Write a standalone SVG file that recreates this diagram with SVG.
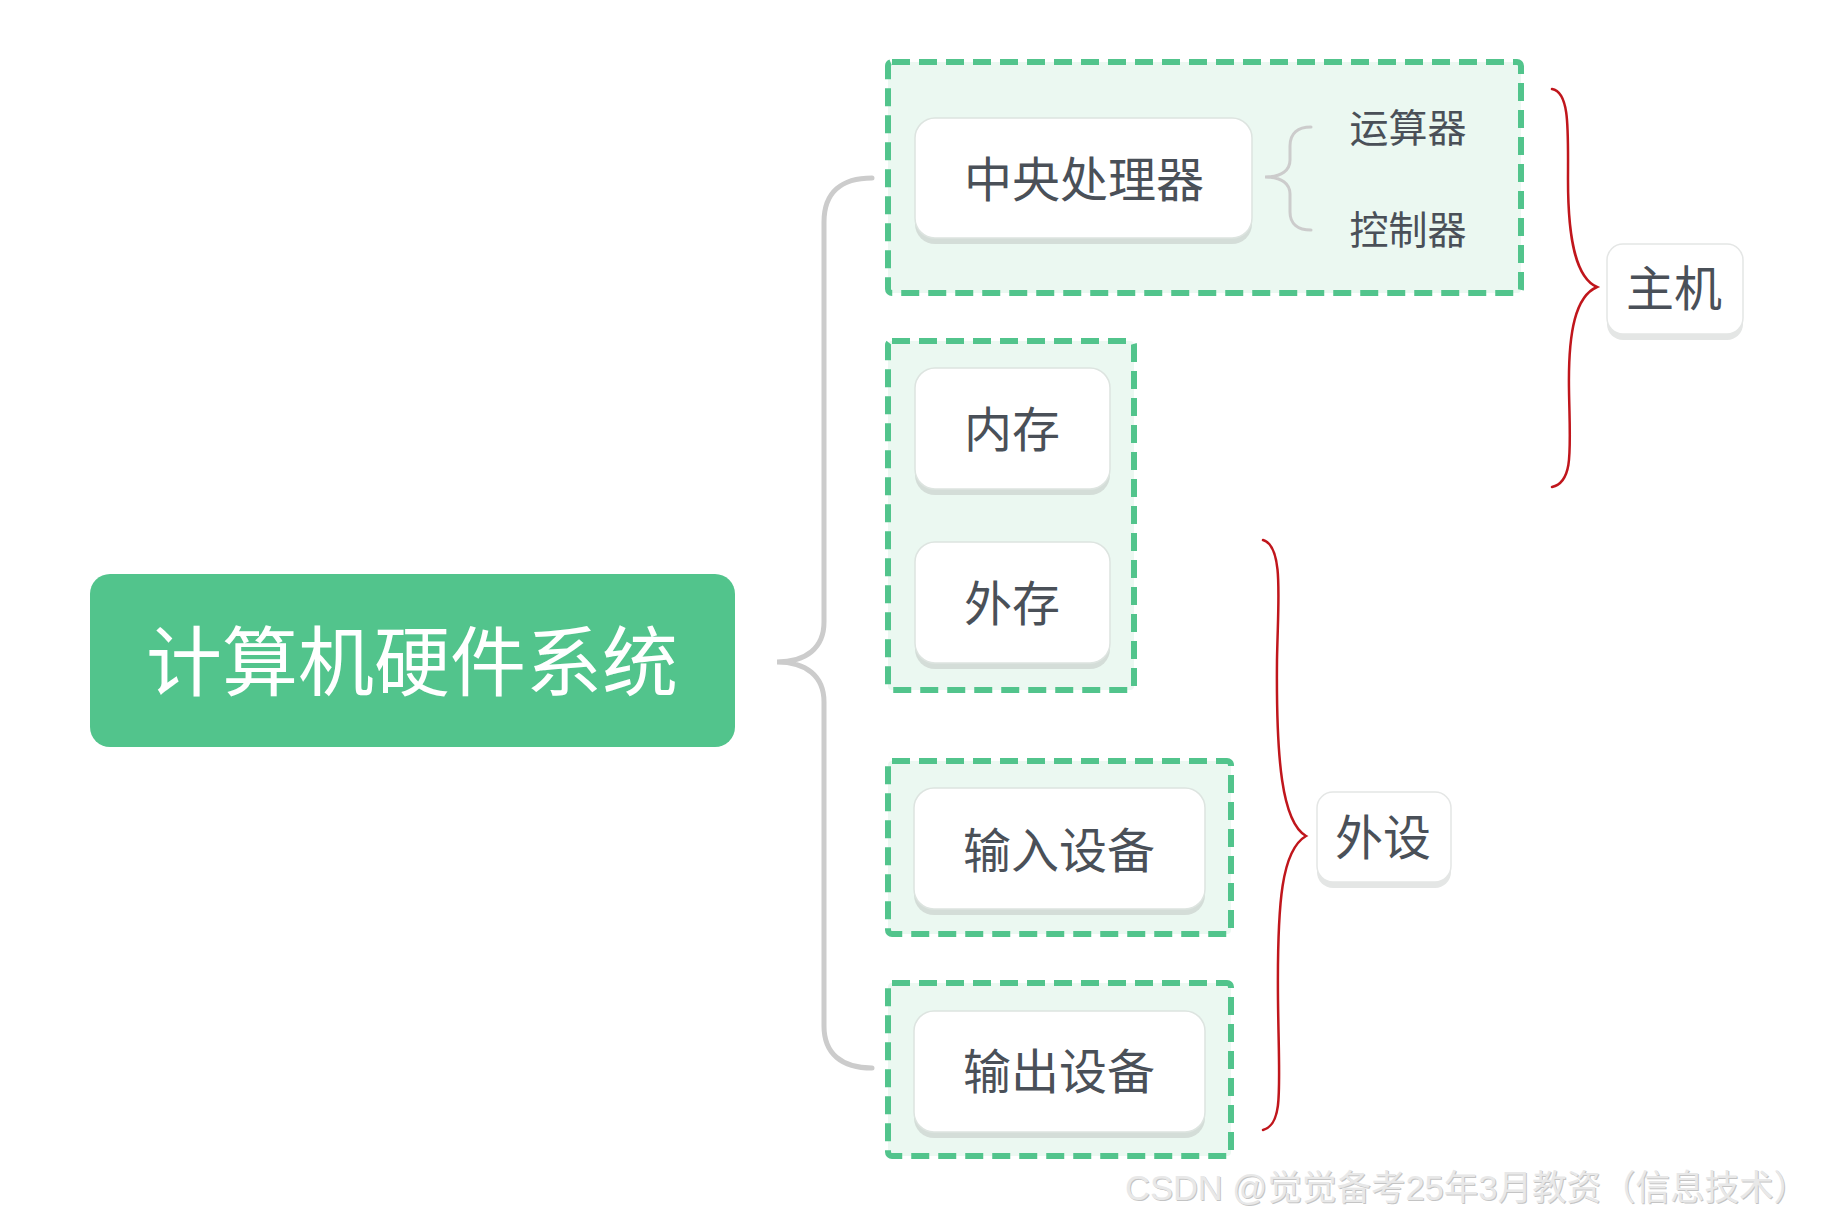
<svg xmlns="http://www.w3.org/2000/svg" width="1830" height="1221" viewBox="0 0 1830 1221">
<style>
.grp{fill:#ebf8f1;stroke:#52c48c;stroke-width:6;stroke-dasharray:18 9}
.card{fill:#ffffff;stroke:#dde4e0;stroke-width:1.5}
.shadow{fill:#d4ddd8}
.t{font-family:"Noto Sans CJK SC","Noto Sans",sans-serif;fill:#4a5058;text-anchor:middle;dominant-baseline:central}
.gray{fill:none;stroke:#cccccc;stroke-linecap:round}
.red{fill:none;stroke:#c0161c;stroke-width:2.5;stroke-linecap:round}
</style>
<rect width="1830" height="1221" fill="#ffffff"/>
<g id="group-cpu">
<rect class="grp" x="888" y="62" width="633" height="231" rx="4"/>
</g>
<g id="group-mem">
<rect class="grp" x="888" y="341" width="246" height="349" rx="4"/>
</g>
<g id="group-in">
<rect class="grp" x="888" y="761" width="343" height="173" rx="4"/>
</g>
<g id="group-out">
<rect class="grp" x="888" y="983" width="343" height="173" rx="4"/>
</g>
<g id="connectors">
<path class="gray" stroke-width="5" d="M872,178 C842,178 824,192 824,222 L824,622 C824,648 806,662 777,662 C806,662 824,676 824,702 L824,1026 C824,1054 842,1068 872,1068"/>
<path class="gray" stroke-width="3" d="M1311,127 C1298,127 1290,133 1290,146 L1290,160 C1290,170 1282,177 1265,177 C1282,177 1290,184 1290,194 L1290,212 C1290,224 1298,230 1311,230"/>
<path class="red" d="M1552,89 C1570,92 1568,130 1568,180 C1568,240 1576,278 1597,287 C1576,296 1568,330 1569,390 C1570,450 1574,482 1552,487"/>
<path class="red" d="M1263,540 C1284,546 1278,600 1277,660 C1276,760 1282,822 1306,836 C1282,850 1277,900 1278,1000 C1279,1090 1284,1124 1263,1130"/>
</g>
<g id="root">
<rect x="90" y="574" width="645" height="173" rx="20" fill="#52c48c"/>
<text class="t" x="412" y="657" font-size="76" style="fill:#ffffff">计算机硬件系统</text>
</g>
<g id="cpu">
<rect class="shadow" x="915" y="124" width="337" height="120" rx="20"/>
<rect class="card" x="915" y="118" width="337" height="120" rx="20"/>
<text class="t" x="1084" y="176" font-size="48">中央处理器</text>
</g>
<g id="alu">
<text class="t" x="1408" y="125" font-size="39">运算器</text>
</g>
<g id="cu">
<text class="t" x="1408" y="227" font-size="39">控制器</text>
</g>
<g id="ram">
<rect class="shadow" x="915" y="374" width="195" height="121" rx="20"/>
<rect class="card" x="915" y="368" width="195" height="121" rx="20"/>
<text class="t" x="1012" y="426" font-size="48">内存</text>
</g>
<g id="disk">
<rect class="shadow" x="915" y="548" width="195" height="121" rx="20"/>
<rect class="card" x="915" y="542" width="195" height="121" rx="20"/>
<text class="t" x="1012" y="600" font-size="48">外存</text>
</g>
<g id="input">
<rect class="shadow" x="914" y="794" width="291" height="121" rx="20"/>
<rect class="card" x="914" y="788" width="291" height="121" rx="20"/>
<text class="t" x="1059" y="847" font-size="48">输入设备</text>
</g>
<g id="output">
<rect class="shadow" x="914" y="1017" width="291" height="121" rx="20"/>
<rect class="card" x="914" y="1011" width="291" height="121" rx="20"/>
<text class="t" x="1059" y="1068" font-size="48">输出设备</text>
</g>
<g id="host">
<rect x="1607" y="250" width="136" height="90" rx="16" fill="#e4e6e5"/>
<rect x="1607" y="244" width="136" height="90" rx="16" fill="#ffffff" stroke="#e4e6e5" stroke-width="1.5"/>
<text class="t" x="1674" y="285" font-size="48">主机</text>
</g>
<g id="peripheral">
<rect x="1317" y="798" width="134" height="90" rx="16" fill="#e4e6e5"/>
<rect x="1317" y="792" width="134" height="90" rx="16" fill="#ffffff" stroke="#e4e6e5" stroke-width="1.5"/>
<text class="t" x="1383" y="834" font-size="48">外设</text>
</g>
<g id="watermark">
<text x="1126" y="1201" font-size="35" textLength="683" lengthAdjust="spacingAndGlyphs" font-family="Liberation Sans,'Noto Sans CJK SC',sans-serif" fill="#c4c4c4">CSDN @觉觉备考25年3月教资（信息技术）</text>
<text x="1125" y="1200" font-size="35" textLength="683" lengthAdjust="spacingAndGlyphs" font-family="Liberation Sans,'Noto Sans CJK SC',sans-serif" fill="#e8e8e8">CSDN @觉觉备考25年3月教资（信息技术）</text>
</g>
</svg>
